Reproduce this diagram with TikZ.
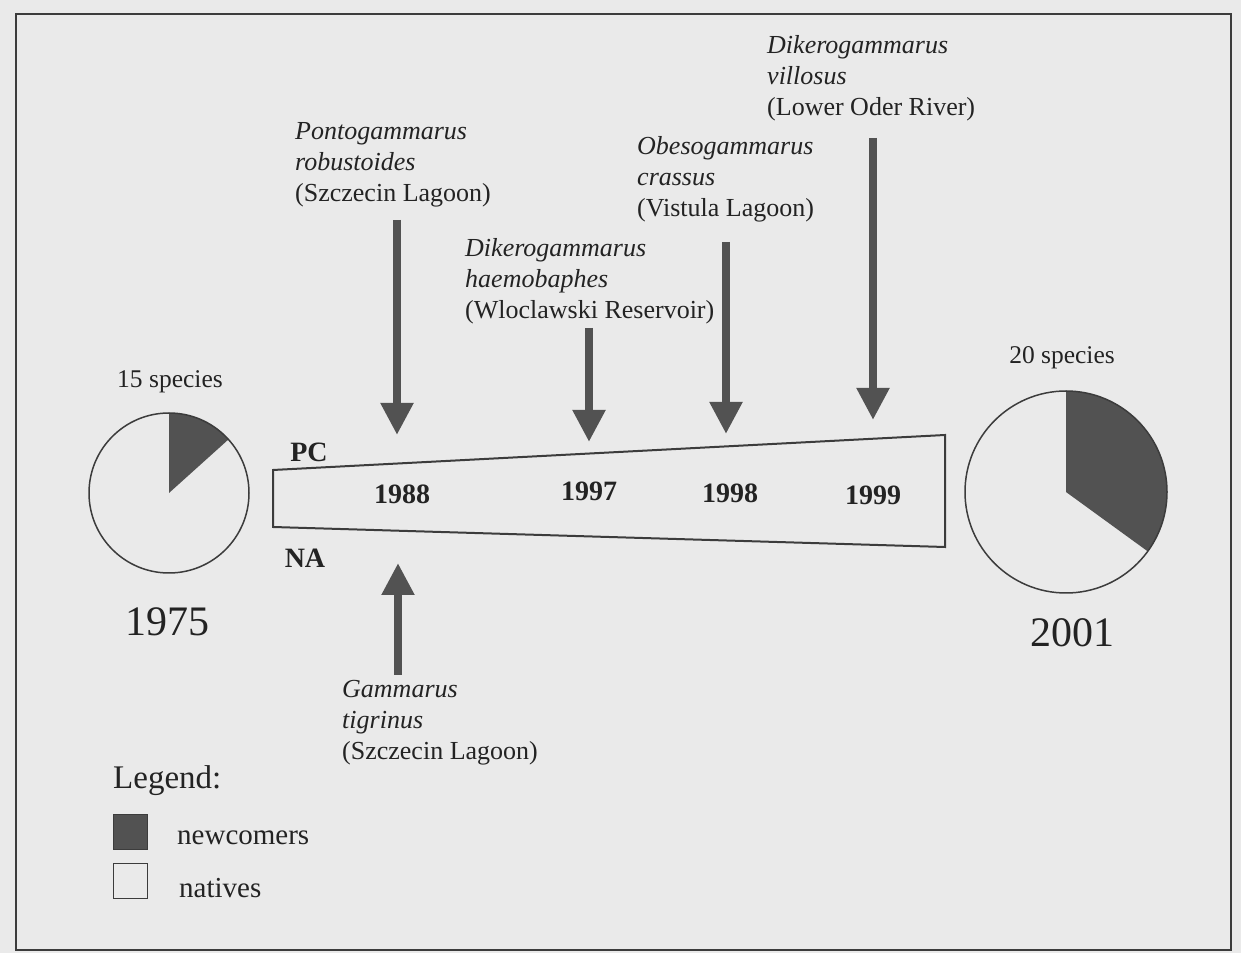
\documentclass[tikz,border=0pt]{standalone}
\usepackage{fontspec}
\setmainfont{Liberation Serif}
\usetikzlibrary{arrows.meta}
\definecolor{bgc}{RGB}{234,234,234}
\definecolor{dk}{RGB}{82,82,82}
\definecolor{ln}{RGB}{60,60,60}
\definecolor{tx}{RGB}{35,35,35}
\begin{document}
\begin{tikzpicture}[x=1pt,y=1pt,
  lbl/.style={anchor=north west, align=left, inner sep=0pt, font=\fontsize{26}{31}\selectfont, text=tx},
  yearlbl/.style={font=\fontsize{28}{30}\selectfont\bfseries, text=tx, inner sep=0pt},
  big/.style={font=\fontsize{42}{44}\selectfont, text=tx, inner sep=0pt},
  cnt/.style={font=\fontsize{25.5}{28}\selectfont, text=tx, inner sep=0pt},
  legtxt/.style={font=\fontsize{29}{32}\selectfont, text=tx, inner sep=0pt, anchor=west},
  arr/.style={draw=dk, line width=8pt, -{Triangle[length=32pt,width=31pt]}},
  piecirc/.style={circle, draw=ln, line width=1.5pt, inner sep=0pt},
  legbox/.style={draw=ln, line width=1.2pt, minimum width=34pt, minimum height=35pt, inner sep=0pt},
]
\fill[bgc] (0,0) rectangle (1241,953);
\useasboundingbox (0,0) rectangle (1241,953);
\draw[ln, line width=2pt] (16,3) rectangle (1231,939);

% pies
\fill[dk] (169,460) -- ++(42:80) arc[start angle=42,end angle=90,radius=80] -- cycle;
\node[piecirc, minimum size=160pt] (pieA) at (169,460) {};
\fill[dk] (1066,461) -- ++(-36:101) arc[start angle=-36,end angle=90,radius=101] -- cycle;
\node[piecirc, minimum size=202pt] (pieB) at (1066,461) {};
\node[cnt] (cntA) at (170,571) {15 species};
\node[cnt] (cntB) at (1062,595) {20 species};
\node[big] (yA) at (167,331) {1975};
\node[big] (yB) at (1072,320) {2001};

% timeline
\draw[ln, line width=2pt] (273,483) -- (945,518) -- (945,406) -- (273,426) -- cycle;
\node[yearlbl] (y88) at (402,459) {1988};
\node[yearlbl] (y97) at (589,462) {1997};
\node[yearlbl] (y98) at (730,460) {1998};
\node[yearlbl] (y99) at (873,458) {1999};
\node[yearlbl] (pc) at (309,501) {PC};
\node[yearlbl] (na) at (305,395) {NA};

% labels
\node[lbl] (ponto) at (295,831) {\textit{Pontogammarus}\\\textit{robustoides}\\(Szczecin Lagoon)};
\node[lbl] (haemo) at (465,715) {\textit{Dikerogammarus}\\\textit{haemobaphes}\\(Wloclawski Reservoir)};
\node[lbl] (obeso) at (637,817) {\textit{Obesogammarus}\\\textit{crassus}\\(Vistula Lagoon)};
\node[lbl] (villo) at (767,918) {\textit{Dikerogammarus}\\\textit{villosus}\\(Lower Oder River)};
\node[lbl] (tigri) at (342,273) {\textit{Gammarus}\\\textit{tigrinus}\\(Szczecin Lagoon)};

% arrows
\coordinate (a1s) at (397,733); \coordinate (a1e) at (397,518);
\coordinate (a2s) at (589,625); \coordinate (a2e) at (589,511);
\coordinate (a3s) at (726,711); \coordinate (a3e) at (726,519);
\coordinate (a4s) at (873,815); \coordinate (a4e) at (873,533);
\coordinate (a5s) at (398,278); \coordinate (a5e) at (398,390);
\draw[arr] (a1s) -- (a1e);
\draw[arr] (a2s) -- (a2e);
\draw[arr] (a3s) -- (a3e);
\draw[arr] (a4s) -- (a4e);
\draw[arr] (a5s) -- (a5e);

% legend
\node[font=\fontsize{33}{35}\selectfont, text=tx, inner sep=0pt, anchor=west] (leg) at (113,172) {Legend:};
\node[legbox, fill=dk, anchor=north west] (boxN) at (113,139) {};
\node[legbox, anchor=north west] (boxV) at (113,90) {};
\node[legtxt] (tN) at (177,115) {newcomers};
\node[legtxt] (tV) at (179,65) {natives};
\end{tikzpicture}
\end{document}
